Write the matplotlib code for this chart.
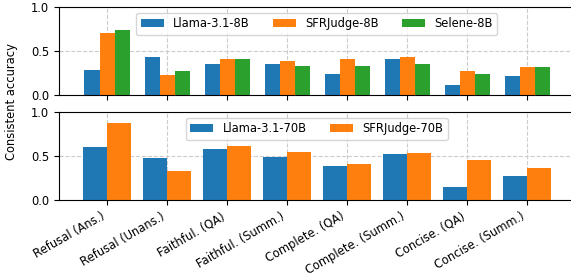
import numpy as np
import matplotlib
matplotlib.use('Agg')
import matplotlib.pyplot as plt

plt.rcParams['font.size'] = 8.3

categories = ['Refusal (Ans.)', 'Refusal (Unans.)', 'Faithful. (QA)', 'Faithful. (Summ.)',
              'Complete. (QA)', 'Complete. (Summ.)', 'Concise. (QA)', 'Concise. (Summ.)']

# 8B judges
llama_8b = [0.284, 0.432, 0.356, 0.356, 0.239, 0.409, 0.114, 0.216]
sfr_8b = [0.708, 0.227, 0.409, 0.386, 0.409, 0.432, 0.273, 0.318]
selene_8b = [0.739, 0.273, 0.409, 0.330, 0.330, 0.352, 0.239, 0.318]

# 70B judges
llama_70b = [0.601, 0.475, 0.578, 0.486, 0.383, 0.521, 0.153, 0.268]
sfr_70b = [0.877, 0.325, 0.613, 0.544, 0.406, 0.532, 0.452, 0.360]

colors = plt.rcParams['axes.prop_cycle'].by_key()['color']

fig = plt.figure(figsize=(5.71, 2.74), dpi=100)
ax1 = fig.add_axes([0.1033, 0.653, 0.903, 0.321])
ax2 = fig.add_axes([0.1033, 0.270, 0.903, 0.321], sharex=ax1)

x = np.arange(len(categories))

w = 0.25
ax1.bar(x - w, llama_8b, w, color=colors[0], label='Llama-3.1-8B')
ax1.bar(x, sfr_8b, w, color=colors[1], label='SFRJudge-8B')
ax1.bar(x + w, selene_8b, w, color=colors[2], label='Selene-8B')
ax1.legend(loc='upper center', ncol=3)

w = 0.4
ax2.bar(x - w/2, llama_70b, w, color=colors[0], label='Llama-3.1-70B')
ax2.bar(x + w/2, sfr_70b, w, color=colors[1], label='SFRJudge-70B')
ax2.legend(loc='upper center', ncol=2)

for ax in (ax1, ax2):
    ax.set_ylim(0, 1.0)
    ax.set_yticks([0.0, 0.5, 1.0])
    ax.grid(True, linestyle='--', color='#cccccc')
    ax.set_axisbelow(True)
    ax.set_xlim(-0.8, 7.79)

ax2.set_xticks(x)
ax2.set_xticklabels(categories, rotation=30, ha='right')
plt.setp(ax1.get_xticklabels(), visible=False)

fig.text(0.021, 0.628, 'Consistent accuracy', rotation=90, va='center', ha='center')

fig.savefig('out.png', dpi=100)
